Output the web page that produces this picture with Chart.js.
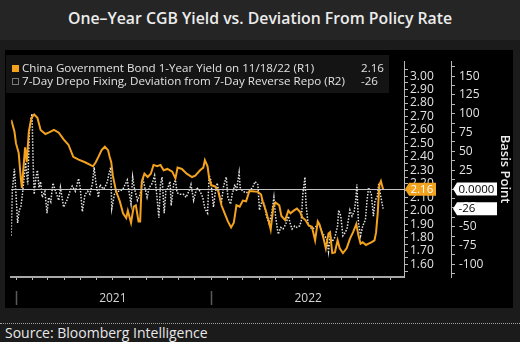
<!DOCTYPE html>
<html>
<head>
<meta charset="utf-8">
<script src="https://cdn.jsdelivr.net/npm/chart.js@4.4.1/dist/chart.umd.min.js"></script>
<style>
  html, body { margin: 0; padding: 0; background: #1b1b1b; }
  body { width: 520px; height: 342px; position: relative; overflow: hidden; font-family: "Open Sans", sans-serif; }
  #title { position: absolute; left: 0; top: 0; width: 520px; height: 40px; background: #252525; color: #ececec;
           font-size: 15.8px; font-weight: 600; line-height: 36px; text-align: center; }
  #panel { position: absolute; left: 5px; top: 50px; width: 508px; height: 258px; background: #000; }
  #source { position: absolute; left: 0; top: 323px; width: 515px; padding-left: 5px; border-top: 1px dotted #a0a0a0;
            color: #e8e8e8; font-size: 14px; line-height: 18px; }
</style>
</head>
<body>
<div id="title">One–Year CGB Yield vs. Deviation From Policy Rate</div>
<div id="panel"><canvas id="chart" width="508" height="258"></canvas></div>
<div id="source">Source: Bloomberg Intelligence</div>
<script>
// days counted from 2021-01-01
const seriesNames = [
  "China Government Bond 1-Year Yield on 11/18/22 (R1)",
  "7-Day Drepo Fixing, Deviation from 7-Day Reverse Repo (R2)"
];

const yieldDays = [
  -9, -3, 0, 5, 9, 11, 17, 20, 24, 29,
  34, 40, 46, 55, 61, 71, 80, 89, 98, 107,
  117, 129, 144, 149, 154, 160, 166, 172, 175, 178,
  181, 187, 194, 200, 206, 209, 215, 220, 224, 229,
  232, 235, 240, 246, 252, 257, 264, 270, 276, 283,
  292, 298, 302, 310, 319, 329, 335, 344, 350, 353,
  358, 361, 365, 372, 378, 384, 390, 396, 402, 407,
  412, 418, 424, 430, 436, 442, 452, 458, 461, 467,
  473, 476, 481, 485, 492, 496, 503, 509, 513, 519,
  525, 531, 535, 541, 547, 553, 559, 564, 567, 570,
  575, 579, 584, 587, 591, 596, 601, 605, 611, 618,
  624, 630, 636, 640, 644, 648, 654, 659, 664, 670,
  673, 676, 679, 682, 686
];
const yieldValues = [
  2.675, 2.59, 2.50, 2.43, 2.24, 2.17, 2.47, 2.36, 2.59, 2.69,
  2.715, 2.69, 2.60, 2.57, 2.58, 2.60, 2.58, 2.53, 2.49, 2.40,
  2.38, 2.36, 2.33, 2.36, 2.40, 2.45, 2.475, 2.45, 2.40, 2.36,
  2.26, 2.145, 2.07, 1.98, 1.945, 2.00, 1.91, 2.03, 2.04, 1.92,
  1.92, 2.215, 2.275, 2.25, 2.275, 2.34, 2.33, 2.34, 2.30, 2.31,
  2.29, 2.24, 2.32, 2.31, 2.275, 2.25, 2.26, 2.30, 2.32, 2.375,
  2.33, 2.24, 2.19, 2.18, 2.145, 2.04, 1.98, 1.92, 1.875, 1.91,
  2.04, 2.03, 2.075, 2.07, 2.145, 2.145, 2.14, 2.12, 2.07, 2.00,
  1.91, 1.86, 2.03, 2.06, 2.04, 1.96, 1.93, 2.00, 1.98, 2.00,
  2.015, 1.99, 1.95, 1.93, 1.89, 1.88, 1.78, 1.92, 1.90, 1.86,
  1.79, 1.72, 1.83, 1.84, 1.685, 1.69, 1.78, 1.72, 1.685, 1.72,
  1.79, 1.84, 1.90, 1.815, 1.755, 1.765, 1.745, 1.755, 1.765, 1.78,
  1.84, 1.98, 2.19, 2.22, 2.16
];

const drepoDays = [
  -9, -7, -3, 0, 3, 6, 9, 12, 15, 18,
  22, 25, 28, 30, 32, 34, 37, 40, 43, 46,
  49, 54, 58, 61, 65, 69, 74, 80, 83, 89,
  95, 101, 105, 111, 117, 120, 124, 129, 134, 138,
  143, 146, 149, 154, 157, 163, 166, 171, 173, 177,
  179, 184, 187, 194, 200, 204, 208, 212, 215, 218,
  221, 227, 232, 237, 245, 249, 255, 259, 263, 267,
  270, 273, 277, 280, 283, 288, 290, 295, 298, 301,
  307, 313, 318, 323, 327, 332, 338, 344, 349, 353,
  358, 361, 364, 369, 372, 376, 381, 384, 388, 393,
  396, 401, 404, 409, 412, 417, 419, 424, 430, 436,
  442, 447, 452, 455, 460, 464, 468, 473, 478, 482,
  485, 490, 495, 499, 504, 509, 513, 516, 521, 525,
  530, 533, 536, 540, 542, 546, 550, 554, 559, 564,
  568, 572, 576, 581, 584, 587, 591, 596, 601, 603,
  607, 611, 616, 619, 624, 628, 632, 635, 637, 640,
  644, 648, 653, 656, 659, 664, 668, 671, 675, 678,
  681, 686
];
const drepoValues = [
  -62, -3, 27, -7, -45, -28, -24, -7, 14, 35,
  6, 77, 94, 100, 35, -7, 14, 25, 2, 10,
  -11, -3, -32, -11, -17, 8, -3, -15, 2, -24,
  -15, -3, 4, -3, 14, 2, -30, -7, -3, -7,
  8, 29, 10, -11, 6, 0, 2, 10, 18, 29,
  -26, -7, -3, -3, 0, 6, 12, -7, -20, 16,
  2, -15, -7, 14, -11, 2, 8, 18, -7, -38,
  6, 16, -32, -3, 0, 10, -22, 8, 12, -5,
  -7, -7, -11, -3, 6, -15, 2, -3, -11, -26,
  -32, 18, 12, -24, -7, 8, -11, -17, 4, 16,
  -11, -20, -7, 6, -3, 22, 2, -3, -5, -3,
  2, 10, 6, -28, -15, -20, -36, -46, -32, -11,
  -36, -60, -51, -53, -47, -36, -47, -53, -49, -51,
  -49, -43, -7, 16, -20, -47, -51, -53, -51, -47,
  -49, -57, -62, -66, -83, -62, -70, -64, -49, -28,
  -36, -62, -57, -51, -28, -36, -30, -15, 6, -45,
  -62, -49, -41, -15, 2, -7, -36, -15, -11, 8,
  -7, -26
];

// axis ticks
const monthStarts = [0, 31, 59, 90, 120, 151, 181, 212, 243, 273, 304, 334,
                     365, 396, 424, 455, 485, 516, 546, 577, 608, 638, 669, 699];
const yearStarts = [0, 365];
const yearMidDays = [181, 546];
const yearLabels = ["2021", "2022"];
const yieldTicks = [1.6, 1.7, 1.8, 1.9, 2.0, 2.1, 2.2, 2.3, 2.4, 2.5, 2.6, 2.7, 2.8, 2.9, 3.0];
const bpTicks = [-100, -75, -50, -25, 0, 25, 50, 75, 100, 125, 150];

const ORANGE = "#f3a21e";
const AXIS = "#b8b8b8";
const TEXT = "#e2e2e2";

Chart.defaults.font.family = '"Open Sans", sans-serif';

// major ticks plus a minor tick half way between each pair
function withMinor(major) {
  const step = major[1] - major[0];
  const out = [];
  major.forEach(v => { out.push(+(v - step / 2).toFixed(3)); out.push(v); });
  out.push(+(major[major.length - 1] + step / 2).toFixed(3));
  return out.map(v => ({ value: v }));
}

function tag(ctx, tipX, y, w, fill, text, color) {
  const h = 13;
  ctx.beginPath();
  ctx.moveTo(tipX, y);
  ctx.lineTo(tipX + 4, y - h / 2);
  ctx.lineTo(tipX + 4 + w, y - h / 2);
  ctx.lineTo(tipX + 4 + w, y + h / 2);
  ctx.lineTo(tipX + 4, y + h / 2);
  ctx.closePath();
  ctx.fillStyle = fill;
  ctx.fill();
  ctx.fillStyle = color;
  ctx.font = '11.5px "Open Sans", sans-serif';
  ctx.textAlign = "left";
  ctx.textBaseline = "middle";
  ctx.fillText(text, tipX + 5.5, y + 0.5);
}

const lastYield = yieldValues[yieldValues.length - 1];
const lastDrepo = drepoValues[drepoValues.length - 1];

const decor = {
  id: "decor",
  afterDatasetsDraw(chart) {
    const { ctx, chartArea: a, scales } = chart;
    const y0 = Math.round(scales.yBp.getPixelForValue(0)) + 0.5;
    ctx.save();
    ctx.strokeStyle = "#c4c4c4";
    ctx.lineWidth = 1;
    ctx.beginPath();
    ctx.moveTo(a.left, y0);
    ctx.lineTo(a.right, y0);
    ctx.stroke();
    ctx.restore();
  },
  afterDraw(chart) {
    const { ctx, scales } = chart;
    ctx.save();

    // legend box
    ctx.fillStyle = "#141414";
    ctx.fillRect(1, 5, 383, 38);
    ctx.fillStyle = ORANGE;
    ctx.fillRect(7, 15, 7, 7);
    ctx.strokeStyle = "#e0e0e0";
    ctx.lineWidth = 1;
    ctx.setLineDash([1, 1]);
    ctx.strokeRect(7.5, 28.5, 6, 6);
    ctx.setLineDash([]);
    ctx.fillStyle = TEXT;
    ctx.font = '11.6px "Open Sans", sans-serif';
    ctx.textAlign = "left";
    ctx.textBaseline = "middle";
    ctx.fillText(seriesNames[0], 17, 19);
    ctx.fillText(seriesNames[1], 17, 32);
    ctx.fillText(lastYield.toFixed(2), 356, 19);
    ctx.fillText(String(lastDrepo), 356, 32);

    // year separators under the time axis
    ctx.strokeStyle = "#5a5a5a";
    ctx.lineWidth = 1.5;
    yearStarts.forEach(d => {
      const x = Math.round(scales.x.getPixelForValue(d)) + 0.5;
      ctx.beginPath();
      ctx.moveTo(x, 241);
      ctx.lineTo(x, 255);
      ctx.stroke();
    });

    // last value tags on the right axes
    tag(ctx, scales.yYield.left, scales.yYield.getPixelForValue(lastYield), 27, ORANGE, lastYield.toFixed(2), "#ffffff");
    tag(ctx, scales.yBp.left + 1, scales.yBp.getPixelForValue(0), 40, "#ffffff", "0.0000", "#000000");
    tag(ctx, scales.yBp.left + 1, scales.yBp.getPixelForValue(lastDrepo), 40, "#ffffff", String(lastDrepo), "#000000");
    ctx.restore();
  }
};

new Chart(document.getElementById("chart"), {
  type: "line",
  data: {
    datasets: [
      {
        label: seriesNames[0],
        data: yieldDays.map((d, i) => ({ x: d, y: yieldValues[i] })),
        yAxisID: "yYield",
        borderColor: ORANGE,
        borderWidth: 2,
        pointRadius: 0,
        tension: 0
      },
      {
        label: seriesNames[1],
        data: drepoDays.map((d, i) => ({ x: d, y: drepoValues[i] })),
        yAxisID: "yBp",
        borderColor: "#e4e4e4",
        borderWidth: 1.5,
        borderDash: [1.5, 1.5],
        pointRadius: 0,
        tension: 0
      }
    ]
  },
  options: {
    responsive: false,
    animation: false,
    layout: { padding: 0 },
    plugins: { legend: { display: false }, tooltip: { enabled: false } },
    scales: {
      x: {
        type: "linear",
        min: -9,
        max: 727,
        afterBuildTicks: ax => { ax.ticks = monthStarts.map(v => ({ value: v })); },
        afterFit: ax => { ax.height = 31; },
        grid: { drawOnChartArea: false, color: AXIS, tickLength: 3 },
        border: { color: "#a8a8a8", width: 2 },
        ticks: {
          autoSkip: false,
          maxRotation: 0,
          padding: 11,
          color: "#d4d4d4",
          font: { size: 12 },
          callback: v => {
            const i = yearMidDays.indexOf(v);
            return i >= 0 ? yearLabels[i] : "";
          }
        }
      },
      yYield: {
        position: "right",
        min: 1.507,
        max: 3.111,
        afterBuildTicks: ax => { ax.ticks = withMinor(yieldTicks); },
        afterFit: ax => { ax.width = 47; },
        grid: { drawOnChartArea: false, color: AXIS, tickLength: 3 },
        border: { color: AXIS },
        ticks: {
          autoSkip: false,
          padding: 2,
          color: TEXT,
          font: { size: 12 },
          callback: v => (Math.round(v * 100) % 10 === 0 ? v.toFixed(2) : "")
        }
      },
      yBp: {
        position: "right",
        min: -116.8,
        max: 169.8,
        afterBuildTicks: ax => { ax.ticks = withMinor(bpTicks); },
        afterFit: ax => { ax.width = 61; },
        grid: { drawOnChartArea: false, color: AXIS, tickLength: 3 },
        border: { color: AXIS },
        ticks: {
          autoSkip: false,
          padding: 4,
          color: TEXT,
          font: { size: 12 },
          callback: v => (v % 25 === 0 ? String(v) : "")
        },
        title: {
          display: true,
          text: "Basis Point",
          color: "#ececec",
          font: { size: 13, weight: "600" },
          padding: { top: 0, bottom: 0 }
        }
      }
    }
  },
  plugins: [decor]
});
</script>
</body>
</html>
